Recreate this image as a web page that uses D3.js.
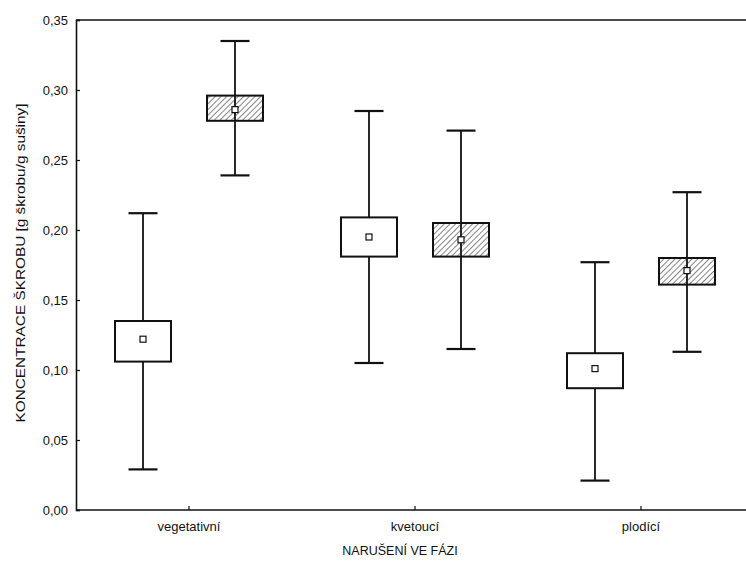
<!DOCTYPE html>
<html>
<head>
  <meta charset="utf-8">
  <script src="https://d3js.org/d3.v7.min.js"></script>
  <style>
    body { margin: 0; background: #fff; }
    text { font-family: 'Liberation Sans', Arial, sans-serif; fill: #111; }
  </style>
</head>
<body>
  <svg id="canvas" width="746" height="569"></svg>
  <script>
    // categories and series
    const phases = ['vegetativní', 'kvetoucí', 'plodící'];
    const series = ['bílý', 'šrafovaný'];
    const yTicks = [0, 0.05, 0.10, 0.15, 0.20, 0.25, 0.30, 0.35];

    // white boxes (first series)
    const meanA = [0.122, 0.195, 0.101];
    const boxLowA = [0.106, 0.181, 0.087];
    const boxHighA = [0.135, 0.209, 0.112];
    const whiskLowA = [0.029, 0.105, 0.021];
    const whiskHighA = [0.212, 0.285, 0.177];

    // hatched boxes (second series)
    const meanB = [0.286, 0.193, 0.171];
    const boxLowB = [0.278, 0.181, 0.161];
    const boxHighB = [0.296, 0.205, 0.180];
    const whiskLowB = [0.239, 0.115, 0.113];
    const whiskHighB = [0.335, 0.271, 0.227];

    const svg = d3.select('svg#canvas');
    const margins = { top: 20, left: 76, bottom: 510, right: 754 };

    // hatch pattern
    svg.append('defs').append('pattern')
      .attr('id', 'hatch')
      .attr('patternUnits', 'userSpaceOnUse')
      .attr('width', 4)
      .attr('height', 4)
      .attr('patternTransform', 'rotate(45)')
      .append('line')
      .attr('x1', 0).attr('y1', 0).attr('x2', 0).attr('y2', 4)
      .attr('stroke', '#222')
      .attr('stroke-width', 1.1);

    const yScale = d3.scaleLinear().domain([0, 0.35]).range([margins.bottom, margins.top]);
    const groupScale = d3.scaleBand().domain(phases).range([margins.left, margins.right]);
    const inner = d3.scalePoint().domain(series).range([-46, 46]);

    const fmt = d => d3.format('.2f')(d).replace('.', ',');

    // y axis
    const yAxis = d3.axisLeft(yScale).tickValues(yTicks).tickSize(-4).tickPadding(8).tickFormat(fmt);
    const yg = svg.append('g').attr('transform', `translate(${margins.left},0)`).call(yAxis);
    yg.select('.domain').attr('stroke', '#111').attr('stroke-width', 1.6);
    yg.selectAll('.tick line').attr('stroke', '#111').attr('stroke-width', 1.2);
    yg.selectAll('text').style('font-size', '13px').attr('fill', '#111').attr('x', -8);

    // x axis (ticks at the centre of each pair)
    const xAxis = d3.axisBottom(groupScale).tickSize(-4).tickPadding(10);
    const xg = svg.append('g').attr('transform', `translate(0,${margins.bottom})`).call(xAxis);
    xg.select('.domain').remove();
    xg.selectAll('.tick line').attr('stroke', '#111').attr('stroke-width', 1.2);
    xg.selectAll('text').style('font-size', '13px').attr('fill', '#111').attr('dy', '0.85em');

    // bottom and top frame lines
    svg.append('line')
      .attr('x1', margins.left).attr('x2', margins.right)
      .attr('y1', margins.bottom).attr('y2', margins.bottom)
      .attr('stroke', '#111').attr('stroke-width', 1.6);
    svg.append('line')
      .attr('x1', margins.left).attr('x2', margins.right)
      .attr('y1', margins.top).attr('y2', margins.top)
      .attr('stroke', '#111').attr('stroke-width', 1.4);

    // build box rows
    const rows = [];
    phases.forEach((p, i) => {
      rows.push({ phase: p, s: series[0], mean: meanA[i], lo: boxLowA[i], hi: boxHighA[i], wlo: whiskLowA[i], whi: whiskHighA[i] });
      rows.push({ phase: p, s: series[1], mean: meanB[i], lo: boxLowB[i], hi: boxHighB[i], wlo: whiskLowB[i], whi: whiskHighB[i] });
    });

    const boxW = 56, capW = 29, mk = 6;
    const cx = d => groupScale(d.phase) + groupScale.bandwidth() / 2 + inner(d.s);

    const g = svg.append('g');
    rows.forEach(d => {
      const x = cx(d);
      // whisker
      g.append('line')
        .attr('x1', x).attr('x2', x)
        .attr('y1', yScale(d.wlo)).attr('y2', yScale(d.whi))
        .attr('stroke', '#111').attr('stroke-width', 1.8);
      [d.wlo, d.whi].forEach(v => {
        g.append('line')
          .attr('x1', x - capW / 2).attr('x2', x + capW / 2)
          .attr('y1', yScale(v)).attr('y2', yScale(v))
          .attr('stroke', '#111').attr('stroke-width', 2.2);
      });
      // box
      g.append('rect')
        .attr('x', x - boxW / 2)
        .attr('y', yScale(d.hi))
        .attr('width', boxW)
        .attr('height', yScale(d.lo) - yScale(d.hi))
        .attr('fill', d.s === series[1] ? 'url(#hatch)' : '#fff')
        .attr('stroke', '#111').attr('stroke-width', 2);
      // mean marker
      g.append('rect')
        .attr('x', x - mk / 2)
        .attr('y', yScale(d.mean) - mk / 2)
        .attr('width', mk).attr('height', mk)
        .attr('fill', '#fff')
        .attr('stroke', '#111').attr('stroke-width', 1.2);
    });

    // axis titles
    svg.append('text')
      .attr('text-anchor', 'middle')
      .attr('x', 400).attr('y', 555)
      .style('font-size', '12.5px')
      .text('NARUŠENÍ VE FÁZI');

    svg.append('text')
      .attr('text-anchor', 'middle')
      .attr('transform', 'translate(25,263)rotate(-90)')
      .attr('textLength', 319)
      .attr('lengthAdjust', 'spacingAndGlyphs')
      .style('font-size', '13.5px')
      .text('KONCENTRACE ŠKROBU [g škrobu/g sušiny]');
  </script>
</body>
</html>
